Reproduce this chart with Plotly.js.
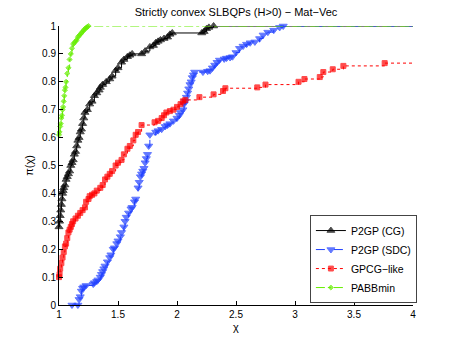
<!DOCTYPE html>
<html>
<head>
<meta charset="utf-8">
<script src="https://cdn.plot.ly/plotly-3.0.1.min.js"></script>
<style>
  body { margin: 0; padding: 0; background: #fff; }
  #plot { width: 457px; height: 344px; }
</style>
</head>
<body>
<div id="plot"></div>
<script>
// performance profile data (ratio chi, fraction pi(chi))
const cgX = [1, 1.005, 1.01, 1.015, 1.02, 1.025, 1.03, 1.035, 1.04, 1.05,
  1.06, 1.07, 1.08, 1.09, 1.10, 1.11, 1.12, 1.13, 1.14, 1.15,
  1.16, 1.17, 1.18, 1.19, 1.20, 1.21, 1.22, 1.24, 1.26, 1.28,
  1.30, 1.32, 1.34, 1.35, 1.37, 1.40, 1.43, 1.45, 1.48, 1.50,
  1.53, 1.55, 1.58, 1.60, 1.62, 1.70, 1.73, 1.77, 1.80, 1.82,
  1.84, 1.86, 1.89, 1.92, 1.94, 1.96, 2.21, 2.23, 2.25, 2.27, 2.31];
const cgY = [0.28, 0.30, 0.32, 0.34, 0.36, 0.38, 0.40, 0.41, 0.42, 0.43,
  0.45, 0.46, 0.47, 0.48, 0.50, 0.51, 0.52, 0.54, 0.55, 0.57,
  0.59, 0.60, 0.62, 0.63, 0.65, 0.67, 0.69, 0.70, 0.72, 0.73,
  0.75, 0.76, 0.77, 0.78, 0.79, 0.80, 0.81, 0.82, 0.84, 0.85,
  0.87, 0.88, 0.89, 0.895, 0.90, 0.90, 0.91, 0.925, 0.93, 0.94,
  0.945, 0.95, 0.955, 0.96, 0.97, 0.975, 0.975, 0.98, 0.99, 0.995, 1.0];

const sdcX = [1.11, 1.16, 1.17, 1.18, 1.19, 1.20, 1.21, 1.23, 1.29, 1.30,
  1.32, 1.33, 1.35, 1.36, 1.37, 1.38, 1.39, 1.41, 1.43, 1.44,
  1.46, 1.47, 1.49, 1.50, 1.52, 1.53, 1.55, 1.56, 1.57, 1.59,
  1.61, 1.62, 1.64, 1.65, 1.67, 1.68, 1.69, 1.70, 1.71, 1.72,
  1.73, 1.74, 1.75, 1.76, 1.77, 1.82, 1.84, 1.87, 1.90, 1.92,
  1.94, 1.97, 2.00, 2.02, 2.03, 2.05, 2.06, 2.07, 2.08, 2.09,
  2.10, 2.11, 2.12, 2.13, 2.14, 2.15, 2.22, 2.26, 2.28, 2.30,
  2.32, 2.34, 2.36, 2.40, 2.42, 2.45, 2.47, 2.50, 2.53, 2.56,
  2.59, 2.62, 2.66, 2.70, 2.73, 2.77, 2.82, 2.87, 2.90];
const sdcY = [0.0, 0.0, 0.02, 0.03, 0.05, 0.06, 0.065, 0.07, 0.075, 0.08,
  0.085, 0.09, 0.10, 0.11, 0.12, 0.13, 0.14, 0.155, 0.17, 0.18,
  0.20, 0.205, 0.22, 0.23, 0.245, 0.26, 0.28, 0.30, 0.315, 0.33,
  0.345, 0.35, 0.37, 0.38, 0.42, 0.44, 0.46, 0.47, 0.48, 0.49,
  0.51, 0.525, 0.54, 0.57, 0.61, 0.62, 0.625, 0.63, 0.64, 0.645,
  0.65, 0.66, 0.67, 0.68, 0.69, 0.70, 0.72, 0.73, 0.745, 0.76,
  0.775, 0.79, 0.80, 0.815, 0.825, 0.835, 0.835, 0.838, 0.84, 0.85,
  0.86, 0.87, 0.878, 0.882, 0.885, 0.887, 0.89, 0.905, 0.92, 0.928,
  0.935, 0.94, 0.943, 0.955, 0.968, 0.978, 0.985, 0.995, 1.0];

const gpcgX = [1, 1.005, 1.01, 1.02, 1.03, 1.04, 1.05, 1.06, 1.07, 1.08,
  1.09, 1.10, 1.11, 1.12, 1.14, 1.16, 1.18, 1.20, 1.22, 1.23,
  1.25, 1.26, 1.28, 1.30, 1.32, 1.35, 1.37, 1.39, 1.41, 1.43,
  1.45, 1.48, 1.50, 1.53, 1.55, 1.58, 1.60, 1.63, 1.65, 1.67,
  1.70, 1.81, 1.84, 1.87, 1.89, 1.91, 1.94, 1.97, 2.00, 2.03,
  2.05, 2.07, 2.19, 2.31, 2.39, 2.41, 2.68, 2.75, 3.03, 3.08,
  3.21, 3.24, 3.32, 3.41, 3.76];
const gpcgY = [0.10, 0.11, 0.13, 0.15, 0.17, 0.19, 0.21, 0.22, 0.24, 0.26,
  0.27, 0.28, 0.29, 0.30, 0.31, 0.32, 0.33, 0.34, 0.35, 0.37,
  0.38, 0.39, 0.395, 0.40, 0.41, 0.42, 0.43, 0.45, 0.46, 0.47,
  0.48, 0.50, 0.51, 0.52, 0.54, 0.56, 0.57, 0.59, 0.61, 0.62,
  0.645, 0.655, 0.66, 0.67, 0.68, 0.69, 0.695, 0.70, 0.71, 0.72,
  0.73, 0.735, 0.745, 0.755, 0.767, 0.777, 0.78, 0.79, 0.80, 0.81,
  0.817, 0.835, 0.845, 0.857, 0.867];

const pabbX = [1, 1.005, 1.01, 1.015, 1.02, 1.025, 1.03, 1.035, 1.04, 1.045,
  1.05, 1.055, 1.06, 1.07, 1.08, 1.09, 1.10, 1.11, 1.12, 1.13,
  1.14, 1.15, 1.16, 1.17, 1.18, 1.19, 1.20, 1.21, 1.22, 1.23, 1.24, 1.25];
const pabbY = [0.61, 0.62, 0.64, 0.65, 0.67, 0.68, 0.70, 0.71, 0.73, 0.75,
  0.77, 0.78, 0.80, 0.83, 0.85, 0.88, 0.90, 0.92, 0.935, 0.94,
  0.945, 0.95, 0.96, 0.965, 0.97, 0.975, 0.98, 0.985, 0.99, 0.993, 0.997, 1.0];

const names = ['P2GP (CG)', 'P2GP (SDC)', 'GPCG\u2212like', 'PABBmin'];
const xTicks = [1, 1.5, 2, 2.5, 3, 3.5, 4];
const yTicks = [0, 0.1, 0.2, 0.3, 0.4, 0.5, 0.6, 0.7, 0.8, 0.9, 1];
const xMax = 4;

// each profile runs on flat to the right end of the axis, without a marker there
function profile(xs, ys, name, color, dash, symbol, size) {
  const x = xs.concat([xMax]);
  const y = ys.concat([ys[ys.length - 1]]);
  const sizes = xs.map(() => size).concat([0]);
  return {
    x: x, y: y, name: name,
    type: 'scatter', mode: 'lines+markers', cliponaxis: false,
    line: { color: color, width: 1, dash: dash, shape: 'hv' },
    marker: { symbol: symbol, size: sizes, color: color, line: { color: color, width: 1 } }
  };
}

const data = [
  profile(cgX, cgY, names[0], '#000000', 'solid', 'triangle-up', 7),
  profile(sdcX, sdcY, names[1], '#2040ff', 'dash', 'triangle-down', 7),
  profile(gpcgX, gpcgY, names[2], '#ff0000', 'dot', 'square', 5),
  profile(pabbX, pabbY, names[3], '#66ee00', 'dashdot', 'diamond', 4)
];

const font = { family: 'Liberation Sans, Arial, sans-serif', size: 10, color: '#000' };

const layout = {
  width: 457, height: 344,
  margin: { l: 59, r: 44, t: 26, b: 39 },
  paper_bgcolor: '#fff', plot_bgcolor: '#fff',
  font: font,
  showlegend: true,
  title: {
    text: 'Strictly convex SLBQPs (H>0) \u2212 Mat\u2212Vec',
    font: { family: font.family, size: 11, color: '#000' },
    x: 0.5, xanchor: 'center', xref: 'paper', y: 0.965, yanchor: 'middle'
  },
  xaxis: {
    range: [1, 4], tickvals: xTicks, ticktext: xTicks.map(String),
    ticks: 'inside', ticklen: 4, tickcolor: '#000',
    showline: true, linecolor: '#000', linewidth: 1, mirror: false,
    showgrid: false, zeroline: false,
    title: { text: '\u03c7', font: { family: font.family, size: 11 }, standoff: 4 }
  },
  yaxis: {
    range: [0, 1], tickvals: yTicks, ticktext: yTicks.map(String),
    ticks: 'inside', ticklen: 4, tickcolor: '#000',
    showline: true, linecolor: '#000', linewidth: 1, mirror: false,
    showgrid: false, zeroline: false,
    title: { text: '\u03c0(\u03c7)', font: { family: font.family, size: 11 }, standoff: 6 }
  },
  legend: {
    x: 1.011, xanchor: 'right', y: 0.007, yanchor: 'bottom',
    bgcolor: '#fff', bordercolor: '#444', borderwidth: 1,
    font: { family: font.family, size: 10.5, color: '#000' },
    itemwidth: 30, tracegroupgap: 0
  }
};

Plotly.newPlot('plot', data, layout, { displayModeBar: false, staticPlot: true });
</script>
</body>
</html>
